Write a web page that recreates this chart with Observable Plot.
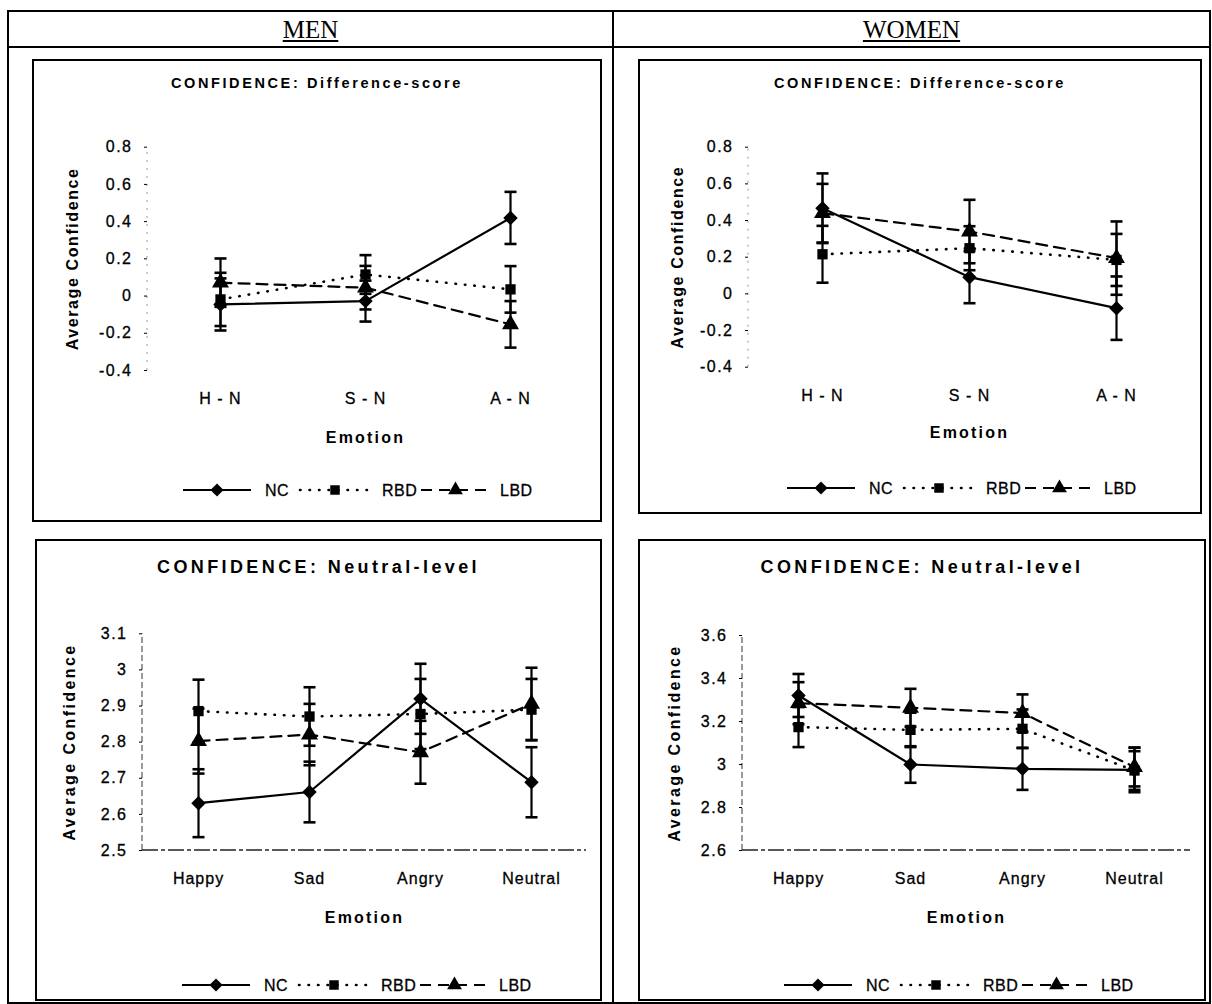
<!DOCTYPE html>
<html><head><meta charset="utf-8">
<script src="https://cdn.jsdelivr.net/npm/d3@7"></script>
<script src="https://cdn.jsdelivr.net/npm/@observablehq/plot@0.6"></script>
<style>
body{margin:0;background:#fff;}
#page{position:relative;width:1212px;height:1004px;overflow:hidden;font-family:"Liberation Sans",Arial,sans-serif;color:#000;}
.ln{position:absolute;background:#000;}
.box{position:absolute;border:2px solid #000;box-sizing:border-box;}
.hdr{position:absolute;font-family:"Liberation Serif","Times New Roman",serif;font-size:25px;text-decoration:underline;text-align:center;line-height:1;}
.title{position:absolute;font-weight:bold;text-align:center;white-space:nowrap;line-height:1;transform:translate(-50%,-50%);}
.plot{position:absolute;}
.plot svg{overflow:visible;}
.legend{position:absolute;overflow:visible;}
</style></head>
<body><div id="page"></div>
<script>
// ---------- data ----------
const groups = ["NC", "RBD", "LBD"];
const diffCats = ["H - N", "S - N", "A - N"];
const levelCats = ["Happy", "Sad", "Angry", "Neutral"];

const diffTicks = [-0.4, -0.2, 0, 0.2, 0.4, 0.6, 0.8];
const menLevelTicks = [2.5, 2.6, 2.7, 2.8, 2.9, 3, 3.1];
const womenLevelTicks = [2.6, 2.8, 3, 3.2, 3.4, 3.6];

// MEN - difference score
const menDiffNC = [-0.045, -0.027, 0.42];
const menDiffNCErr = [0.14, 0.11, 0.14];
const menDiffRBD = [-0.018, 0.116, 0.036];
const menDiffRBDErr = [0.143, 0.104, 0.125];
const menDiffLBD = [0.072, 0.045, -0.152];
const menDiffLBDErr = [0.13, 0.117, 0.125];

// WOMEN - difference score
const womenDiffNC = [0.467, 0.091, -0.078];
const womenDiffNCErr = [0.19, 0.142, 0.173];
const womenDiffRBD = [0.216, 0.249, 0.185];
const womenDiffRBDErr = [0.155, 0.12, 0.142];
const womenDiffLBD = [0.44, 0.34, 0.195];
const womenDiffLBDErr = [0.16, 0.173, 0.2];

// MEN - neutral level
const menLevelNC = [2.631, 2.662, 2.92, 2.689];
const menLevelNCErr = [0.094, 0.084, 0.097, 0.097];
const menLevelRBD = [2.886, 2.871, 2.878, 2.89];
const menLevelRBDErr = [0.087, 0.081, 0.097, 0.085];
const menLevelLBD = [2.803, 2.821, 2.772, 2.906];
const menLevelLBDErr = [0.09, 0.085, 0.087, 0.1];

// WOMEN - neutral level
const womenLevelNC = [3.321, 3.0, 2.98, 2.975];
const womenLevelNCErr = [0.1, 0.085, 0.098, 0.104];
const womenLevelRBD = [3.174, 3.161, 3.166, 2.972];
const womenLevelRBDErr = [0.093, 0.08, 0.09, 0.09];
const womenLevelLBD = [3.285, 3.264, 3.239, 2.988];
const womenLevelLBDErr = [0.098, 0.088, 0.087, 0.09];

// ---------- layout ----------
const FONT = '"Liberation Sans", Arial, sans-serif';
const page = document.getElementById("page");
function el(tag, cls, css, html) {
  const e = document.createElement(tag);
  if (cls) e.className = cls;
  Object.assign(e.style, css || {});
  if (html != null) e.textContent = html;
  page.appendChild(e);
  return e;
}
// outer table
el("div", "ln", {left: "7px", top: "10px", width: "1204px", height: "2px"});
el("div", "ln", {left: "7px", top: "46px", width: "1204px", height: "2px"});
el("div", "ln", {left: "7px", top: "1002px", width: "1204px", height: "2px"});
el("div", "ln", {left: "7px", top: "10px", width: "2px", height: "994px"});
el("div", "ln", {left: "1209px", top: "10px", width: "2px", height: "994px"});
el("div", "ln", {left: "612px", top: "10px", width: "2px", height: "994px"});
el("div", "hdr", {left: "9px", width: "603px", top: "17px"}, "MEN");
el("div", "hdr", {left: "614px", width: "595px", top: "17px"}, "WOMEN");

const fmt = d => String(+d.toFixed(1));
const cap = {draw(ctx) { ctx.moveTo(-6, 0); ctx.lineTo(6, 0); }};

function panel(p) {
  const [bl, bt, br, bb] = p.box;
  el("div", "box", {left: bl + "px", top: bt + "px", width: (br - bl) + "px", height: (bb - bt) + "px"});
  el("div", "title", {left: (bl + br) / 2 + "px", top: p.titleY + "px", fontSize: p.titleSize + "px", letterSpacing: p.titleSpacing + "px"}, p.title);

  const rows = [];
  groups.forEach((g, gi) => p.cats.forEach((c, i) => rows.push({group: g, cat: c, v: p.vals[gi][i], e: p.errs[gi][i]})));
  const sel = g => rows.filter(d => d.group === g);

  const svgLeft = bl + 3, svgTop = Math.round(p.yTop) - 20;
  const mt = p.yTop - svgTop, ml = p.x0 - svgLeft, mr = 10;
  const width = p.x1 + mr - svgLeft;
  const height = p.emotionY + 14 - svgTop;
  const mb = height - (p.yBot - svgTop);

  const plot = Plot.plot({
    width, height, marginLeft: ml, marginRight: mr, marginTop: mt, marginBottom: mb,
    style: {fontFamily: FONT, fontSize: "16px", color: "#000", background: "transparent", overflow: "visible"},
    x: {type: "point", domain: p.cats, padding: 0.5},
    y: {domain: p.yDomain},
    marks: [
      Plot.axisY({ticks: p.yTicks, tickFormat: fmt, tickSize: 3, tickPadding: 12, label: null}),
      Plot.axisX({tickSize: 0, tickPadding: 22, label: null}),
      Plot.text(["Average Confidence"], {text: d => d, frameAnchor: "left", rotate: -90, dx: -(p.x0 - p.yLabelX),
        textAnchor: "middle", lineAnchor: "middle", fontWeight: "bold", fontSize: 16}),
      Plot.text(["Emotion"], {text: d => d, frameAnchor: "bottom", dy: p.emotionY - p.yBot,
        textAnchor: "middle", lineAnchor: "middle", fontWeight: "bold", fontSize: 16}),
      Plot.ruleX(rows, {x: "cat", y1: d => d.v - d.e, y2: d => d.v + d.e, stroke: "#000", strokeWidth: 2.2}),
      Plot.dot(rows, {x: "cat", y: d => d.v + d.e, symbol: cap, r: 4, fill: "none", stroke: "#000", strokeWidth: 2.6}),
      Plot.dot(rows, {x: "cat", y: d => d.v - d.e, symbol: cap, r: 4, fill: "none", stroke: "#000", strokeWidth: 2.6}),
      Plot.line(sel("NC"), {x: "cat", y: "v", stroke: "#000", strokeWidth: 2.2}),
      Plot.line(sel("RBD"), {x: "cat", y: "v", stroke: "#000", strokeWidth: 2.6, strokeDasharray: "0.5,9", strokeLinecap: "round"}),
      Plot.line(sel("LBD"), {x: "cat", y: "v", stroke: "#000", strokeWidth: 2.2, strokeDasharray: "11,7"}),
      Plot.dot(sel("NC"), {x: "cat", y: "v", symbol: "diamond2", r: 6.5, fill: "#000"}),
      Plot.dot(sel("RBD"), {x: "cat", y: "v", symbol: "square", r: 5.8, fill: "#000"}),
      Plot.dot(sel("LBD"), {x: "cat", y: "v", symbol: "triangle", r: 6.3, fill: "#000"})
    ]
  });
  const holder = el("div", "plot", {left: svgLeft + "px", top: svgTop + "px"});
  holder.appendChild(plot);

  const svg = d3.select(plot);
  // text styling (letter spacing as in the scanned original)
  svg.selectAll("text").each(function() {
    const t = this.textContent;
    if (t === "Average Confidence") d3.select(this).attr("letter-spacing", p.level ? 2.4 : 1.6);
    else if (t === "Emotion") d3.select(this).attr("letter-spacing", 2.2);
  });
  svg.selectAll('g[aria-label="y-axis tick label"] text').attr("letter-spacing", 1.5).attr("stroke", "#000").attr("stroke-width", 0.3);
  svg.selectAll('g[aria-label="x-axis tick label"] text').attr("letter-spacing", 1).attr("stroke", "#000").attr("stroke-width", 0.3);

  // axis lines (decorative, from the library's scale ranges)
  const xr = plot.scale("x").range, yr = plot.scale("y").range;
  svg.insert("line", ":first-child")
    .attr("x1", xr[0]).attr("x2", xr[0]).attr("y1", yr[0]).attr("y2", yr[1])
    .attr("stroke", p.level ? "#333" : "#999").attr("stroke-width", 1).attr("stroke-dasharray", p.level ? "6,3" : "2,6");
  if (p.level) {
    svg.insert("line", ":first-child")
      .attr("x1", xr[0]).attr("x2", xr[1]).attr("y1", yr[0]).attr("y2", yr[0])
      .attr("stroke", "#222").attr("stroke-width", 1.5).attr("stroke-dasharray", "16,3,4,3");
  }

  // legend
  const L = (p.x0 + p.x1) / 2 - 182;
  const lg = d3.select(page).append("svg").attr("class", "legend")
    .style("left", L + "px").style("top", (p.legendY - 10) + "px")
    .attr("width", 380).attr("height", 20);
  const items = [
    {name: "NC", a: 0, b: 68, t: 82, dash: null, sym: d3.symbolDiamond2, size: 110},
    {name: "RBD", a: 117, b: 187, t: 199, dash: "0.5,9", sym: d3.symbolSquare, size: 90},
    {name: "LBD", a: 238, b: 307, t: 317, dash: "11,7", sym: d3.symbolTriangle, size: 95}
  ];
  items.forEach(it => {
    const dotted = it.dash && it.dash.startsWith("0.5");
    lg.append("line").attr("x1", it.a).attr("x2", it.b).attr("y1", 10).attr("y2", 10)
      .attr("stroke", "#000").attr("stroke-width", dotted ? 2.6 : 2)
      .attr("stroke-linecap", dotted ? "round" : "butt")
      .attr("stroke-dasharray", it.dash);
    lg.append("path").attr("d", d3.symbol(it.sym, it.size)()).attr("transform", `translate(${(it.a + it.b) / 2},10)`).attr("fill", "#000");
    lg.append("text").attr("x", it.t).attr("y", 10).attr("dy", "0.35em")
      .attr("font-family", FONT).attr("font-size", 16).attr("letter-spacing", 0.5)
      .attr("stroke", "#000").attr("stroke-width", 0.3).text(it.name);
  });
}

panel({box: [32, 59, 602, 522], title: "CONFIDENCE: Difference-score", titleY: 83, titleSize: 14.5, titleSpacing: 2.6,
  cats: diffCats, vals: [menDiffNC, menDiffRBD, menDiffLBD], errs: [menDiffNCErr, menDiffRBDErr, menDiffLBDErr],
  yDomain: [-0.4, 0.8], yTicks: diffTicks, x0: 147, x1: 583, yTop: 146.7, yBot: 370, yLabelX: 72,
  emotionY: 437, legendY: 490, level: false});
panel({box: [638, 59, 1202, 514], title: "CONFIDENCE: Difference-score", titleY: 83, titleSize: 14.5, titleSpacing: 2.6,
  cats: diffCats, vals: [womenDiffNC, womenDiffRBD, womenDiffLBD], errs: [womenDiffNCErr, womenDiffRBDErr, womenDiffLBDErr],
  yDomain: [-0.4, 0.8], yTicks: diffTicks, x0: 748, x1: 1190, yTop: 146.7, yBot: 366.7, yLabelX: 677,
  emotionY: 432, legendY: 488, level: false});
panel({box: [35, 539, 602, 1001], title: "CONFIDENCE: Neutral-level", titleY: 567, titleSize: 18, titleSpacing: 3.4,
  cats: levelCats, vals: [menLevelNC, menLevelRBD, menLevelLBD], errs: [menLevelNCErr, menLevelRBDErr, menLevelLBDErr],
  yDomain: [2.5, 3.1], yTicks: menLevelTicks, x0: 142, x1: 586, yTop: 633.3, yBot: 850, yLabelX: 69,
  emotionY: 917, legendY: 985, level: true});
panel({box: [638, 539, 1206, 1001], title: "CONFIDENCE: Neutral-level", titleY: 567, titleSize: 18, titleSpacing: 3.4,
  cats: levelCats, vals: [womenLevelNC, womenLevelRBD, womenLevelLBD], errs: [womenLevelNCErr, womenLevelRBDErr, womenLevelLBDErr],
  yDomain: [2.6, 3.6], yTicks: womenLevelTicks, x0: 742, x1: 1190, yTop: 635, yBot: 850, yLabelX: 674,
  emotionY: 917, legendY: 985, level: true});
</script>
</body></html>
